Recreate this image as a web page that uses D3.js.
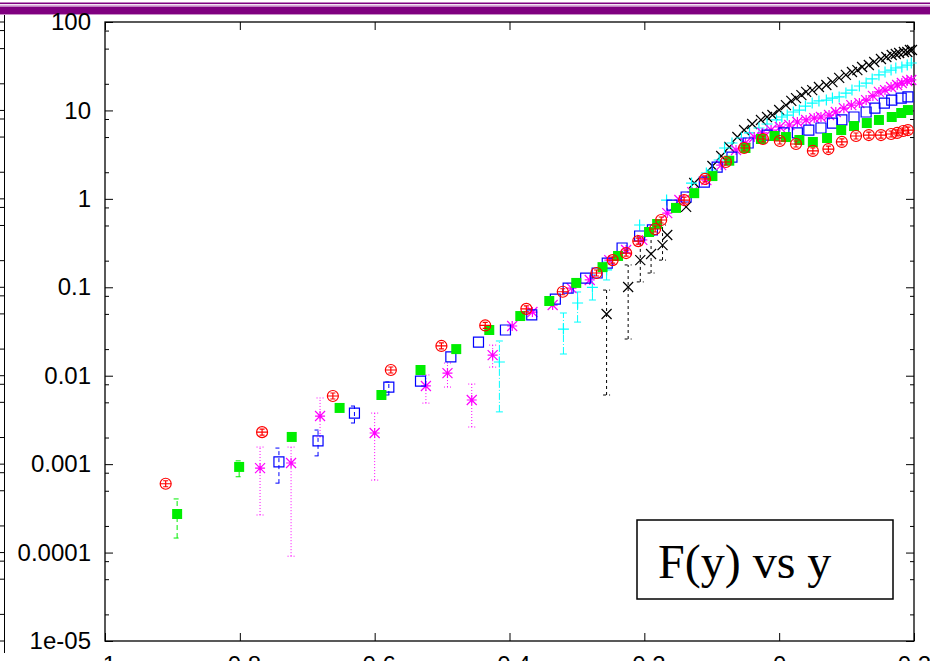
<!DOCTYPE html>
<html>
<head>
<meta charset="utf-8">
<script src="https://cdn.jsdelivr.net/npm/d3@7"></script>
<style>
body { margin: 0; background: #fff; overflow: hidden; }
svg { display: block; }
</style>
</head>
<body>
<div id="chart"></div>
<script>
const width = 930;
const height = 661;
const margin = { top: 22, right: 16, bottom: 20, left: 105 };

// axis ticks
const xTicks = [-1, -0.8, -0.6, -0.4, -0.2, 0, 0.2];
const xTickLabels = ["-1", "-0.8", "-0.6", "-0.4", "-0.2", "0", "0.2"];
const yTicks = [1e-5, 1e-4, 1e-3, 1e-2, 1e-1, 1, 10, 100];
const yTickLabels = ["1e-05", "0.0001", "0.001", "0.01", "0.1", "1", "10", "100"];
const yMinorMult = [2, 5, 8];

// [x, F(y), low, high] -- low/high only where a bar is visible
const red = [
  [-0.910, 0.0006], [-0.767, 0.0023], [-0.662, 0.0059], [-0.576, 0.0116],
  [-0.501, 0.0217], [-0.436, 0.037], [-0.375, 0.057], [-0.321, 0.089],
  [-0.271, 0.145], [-0.247, 0.203], [-0.227, 0.244], [-0.209, 0.333],
  [-0.184, 0.456], [-0.175, 0.577], [-0.141, 0.97], [-0.110, 1.68],
  [-0.079, 2.61], [-0.052, 3.76], [-0.024, 4.75], [0.001, 4.51],
  [0.025, 4.17], [0.050, 3.48], [0.073, 3.66], [0.093, 4.40],
  [0.114, 5.14], [0.133, 5.27], [0.151, 5.27], [0.166, 5.41],
  [0.175, 5.56], [0.184, 5.85], [0.191, 6.0]
];
const green = [
  [-0.893, 2.73e-4, 1.46e-4, 4.04e-4], [-0.801, 9.3e-4, 7.2e-4, 1.09e-3],
  [-0.723, 0.00203], [-0.652, 0.00432], [-0.590, 0.00605], [-0.532, 0.0116],
  [-0.479, 0.0200], [-0.430, 0.0329], [-0.384, 0.0473], [-0.341, 0.070],
  [-0.301, 0.112], [-0.262, 0.169], [-0.239, 0.226], [-0.193, 0.422],
  [-0.181, 0.52], [-0.153, 0.79], [-0.126, 1.16], [-0.099, 1.81],
  [-0.074, 2.7], [-0.050, 3.76], [-0.027, 4.75], [-0.007, 5.14],
  [0.010, 5.0], [0.030, 4.63], [0.050, 4.40], [0.071, 4.88],
  [0.092, 6.0], [0.111, 6.66], [0.130, 7.2], [0.148, 7.8],
  [0.167, 8.43], [0.181, 9.35], [0.191, 10.1]
];
const blue = [
  [-0.742, 1.06e-3, 6.1e-4, 1.52e-3], [-0.684, 1.83e-3, 1.24e-3, 2.43e-3],
  [-0.630, 3.78e-3, 2.92e-3, 4.54e-3], [-0.579, 7.44e-3, 6.05e-3, 8.5e-3],
  [-0.532, 8.7e-3], [-0.487, 0.0163], [-0.446, 0.0240], [-0.406, 0.0329],
  [-0.367, 0.0487], [-0.332, 0.0736], [-0.313, 0.098], [-0.287, 0.127],
  [-0.270, 0.145], [-0.255, 0.188], [-0.233, 0.278], [-0.207, 0.380],
  [-0.188, 0.445], [-0.159, 0.85], [-0.138, 1.05], [-0.111, 1.55],
  [-0.092, 2.29], [-0.070, 2.97], [-0.046, 4.28], [-0.018, 5.27],
  [0.007, 5.56], [0.027, 5.56], [0.044, 6.0], [0.062, 6.33],
  [0.079, 7.2], [0.093, 7.8], [0.111, 8.43], [0.129, 9.6],
  [0.142, 10.6], [0.156, 12.1], [0.167, 13.1], [0.181, 13.8], [0.191, 14.2]
];
const magenta = [
  [-0.770, 9.0e-4, 2.66e-4, 1.56e-3], [-0.724, 1.03e-3, 9.1e-5, 1.56e-3],
  [-0.681, 3.50e-3, 2.03e-3, 5.6e-3], [-0.600, 2.25e-3, 6.6e-4, 3.78e-3],
  [-0.524, 7.66e-3, 4.9e-3, 0.0102], [-0.492, 0.0107, 7.44e-3, 0.0139],
  [-0.456, 5.31e-3, 2.63e-3, 8.05e-3], [-0.425, 0.0171, 0.0125, 0.0222],
  [-0.396, 0.0365], [-0.366, 0.0525], [-0.336, 0.063], [-0.308, 0.098],
  [-0.281, 0.121], [-0.252, 0.203], [-0.227, 0.264], [-0.203, 0.343],
  [-0.166, 0.69], [-0.148, 0.97], [-0.129, 1.19], [-0.108, 1.63],
  [-0.086, 2.41], [-0.064, 3.57], [-0.050, 4.28], [-0.037, 5.0],
  [-0.025, 5.56], [-0.012, 6.0], [0.001, 6.5], [0.015, 6.84],
  [0.027, 7.4], [0.040, 7.8], [0.052, 8.2], [0.062, 8.43],
  [0.074, 8.87], [0.084, 9.6], [0.096, 10.6], [0.107, 11.5],
  [0.119, 12.1], [0.129, 13.1], [0.139, 14.6], [0.148, 16.2],
  [0.157, 17.0], [0.166, 18.4], [0.175, 19.4], [0.182, 20.4],
  [0.190, 21.5], [0.196, 22.1]
];
const cyan = [
  [-0.415, 0.0143, 3.9e-3, 0.0247], [-0.320, 0.0337, 0.0176, 0.0512],
  [-0.299, 0.0664, 0.0404, 0.0885], [-0.277, 0.10, 0.0718, 0.138],
  [-0.256, 0.157, 0.121, 0.193], [-0.207, 0.506], [-0.167, 0.97],
  [-0.130, 1.51], [-0.108, 1.96], [-0.099, 2.12], [-0.089, 2.75],
  [-0.081, 3.76], [-0.070, 4.28], [-0.056, 4.88], [-0.044, 5.56],
  [-0.030, 6.33], [-0.018, 7.02], [-0.004, 7.8], [0.004, 8.43],
  [0.012, 8.87], [0.021, 9.6], [0.030, 10.1], [0.039, 11.2],
  [0.049, 12.1], [0.059, 12.8], [0.070, 13.1], [0.079, 13.8],
  [0.089, 14.2], [0.099, 15.7], [0.108, 17.0], [0.119, 18.9],
  [0.129, 20.4], [0.138, 22.7], [0.148, 25.2], [0.157, 27.2],
  [0.166, 28.6], [0.173, 30.2], [0.182, 31.0], [0.190, 32.6], [0.196, 34.4]
];
const black = [
  [-0.256, 0.0499, 6.05e-3, 0.093], [-0.224, 0.1007, 0.026, 0.179],
  [-0.206, 0.203, 0.115, 0.371], [-0.190, 0.238, 0.145, 0.39],
  [-0.173, 0.30, 0.203, 0.506], [-0.166, 0.39], [-0.138, 0.81],
  [-0.126, 1.51], [-0.099, 2.35], [-0.086, 3.05], [-0.074, 3.86],
  [-0.062, 5.0], [-0.052, 6.0], [-0.040, 7.02], [-0.027, 7.8],
  [-0.018, 8.43], [-0.010, 8.87], [0.000, 10.1], [0.010, 11.5],
  [0.018, 12.8], [0.025, 13.8], [0.033, 14.9], [0.040, 16.2],
  [0.049, 17.0], [0.059, 18.4], [0.070, 19.4], [0.079, 20.9],
  [0.089, 23.3], [0.099, 25.2], [0.108, 27.2], [0.116, 28.6],
  [0.123, 31.0], [0.133, 32.6], [0.141, 35.3], [0.151, 38.2],
  [0.159, 40.2], [0.167, 42.4], [0.173, 43.5], [0.178, 44.6],
  [0.185, 45.8], [0.190, 45.8], [0.194, 48.2], [0.197, 48.2]
];

const boxLabel = "F(y) vs y";

const svg = d3.select("#chart")
  .append("svg")
  .attr("width", width)
  .attr("height", height);

const x = d3.scaleLinear()
  .domain([-1, 0.2])
  .range([margin.left, width - margin.right]);

const y = d3.scaleLog()
  .domain([1e-5, 100])
  .range([height - margin.bottom, margin.top]);

// purple banner at the very top (slide decoration)
svg.append("rect").attr("x", 0).attr("y", 2.5).attr("width", width).attr("height", 1.6).attr("fill", "#800080");
svg.append("rect").attr("x", 0).attr("y", 5).attr("width", width).attr("height", 1).attr("fill", "#d8a8d8");
svg.append("rect").attr("x", 0).attr("y", 6.5).attr("width", width).attr("height", 7.5).attr("fill", "#800080");
svg.append("rect").attr("x", 0).attr("y", 14).attr("width", width).attr("height", 1).attr("fill", "#c890c8");

// edge of the neighbouring panel on the left
const minorVals = [];
for (let e = -5; e < 2; e++) {
  yMinorMult.forEach(m => minorVals.push(m * Math.pow(10, e)));
}
svg.append("line")
  .attr("x1", 4.5).attr("x2", 4.5)
  .attr("y1", 15).attr("y2", 653)
  .attr("stroke", "#000");
svg.append("g")
  .selectAll("line")
  .data(yTicks.concat(minorVals))
  .join("line")
    .attr("x1", 0).attr("x2", 4.5)
    .attr("y1", d => y(d)).attr("y2", d => y(d))
    .attr("stroke", "#000");

const fontSans = "'Liberation Sans', Arial, sans-serif";

// axes
svg.append("g")
  .attr("transform", `translate(${margin.left},0)`)
  .call(d3.axisLeft(y)
    .tickValues(yTicks)
    .tickSize(-8)
    .tickPadding(14)
    .tickFormat((d, i) => yTickLabels[i]));

svg.append("g")
  .attr("transform", `translate(${margin.left},0)`)
  .call(d3.axisLeft(y).tickValues(minorVals).tickSize(-4).tickFormat(""));

svg.append("g")
  .attr("transform", `translate(${width - margin.right},0)`)
  .call(d3.axisRight(y).tickValues(yTicks).tickSize(-8).tickFormat(""));

svg.append("g")
  .attr("transform", `translate(${width - margin.right},0)`)
  .call(d3.axisRight(y).tickValues(minorVals).tickSize(-4).tickFormat(""));

svg.append("g")
  .attr("transform", `translate(0,${height - margin.bottom})`)
  .call(d3.axisBottom(x)
    .tickValues(xTicks)
    .tickSize(-8)
    .tickPadding(15)
    .tickFormat((d, i) => xTickLabels[i]));

svg.append("g")
  .attr("transform", `translate(0,${margin.top})`)
  .call(d3.axisTop(x).tickValues(xTicks).tickSize(-8).tickFormat(""));

svg.selectAll(".domain").remove();
svg.selectAll(".tick line").attr("stroke", "#000").attr("stroke-width", 1);
svg.selectAll(".tick text")
  .attr("fill", "#000")
  .style("font-family", fontSans)
  .style("font-size", "24px");

// frame
svg.append("rect")
  .attr("x", margin.left)
  .attr("y", margin.top)
  .attr("width", width - margin.right - margin.left)
  .attr("height", height - margin.bottom - margin.top)
  .attr("fill", "none")
  .attr("stroke", "#000")
  .attr("stroke-width", 1.3);

// marker shapes
function markerPath(type, cx, cy) {
  const p = d3.path();
  if (type === "circle") {
    const r = 5.5;
    p.moveTo(cx + r, cy);
    p.arc(cx, cy, r, 0, 2 * Math.PI);
    p.moveTo(cx - r, cy); p.lineTo(cx + r, cy);
    p.moveTo(cx - 2.5, cy - 3); p.lineTo(cx + 2.5, cy - 3);
    p.moveTo(cx - 2.5, cy + 3); p.lineTo(cx + 2.5, cy + 3);
    p.moveTo(cx, cy - 3); p.lineTo(cx, cy + 3);
  } else if (type === "square" || type === "fsquare") {
    const s = 5;
    p.rect(cx - s, cy - s, 2 * s, 2 * s);
  } else if (type === "star") {
    const s = 5;
    p.moveTo(cx - s, cy); p.lineTo(cx + s, cy);
    p.moveTo(cx, cy - s); p.lineTo(cx, cy + s);
    p.moveTo(cx - s, cy - s); p.lineTo(cx + s, cy + s);
    p.moveTo(cx - s, cy + s); p.lineTo(cx + s, cy - s);
  } else if (type === "plus") {
    const s = 5.5;
    p.moveTo(cx - s, cy); p.lineTo(cx + s, cy);
    p.moveTo(cx, cy - s); p.lineTo(cx, cy + s);
  } else if (type === "cross") {
    const s = 5;
    p.moveTo(cx - s, cy - s); p.lineTo(cx + s, cy + s);
    p.moveTo(cx - s, cy + s); p.lineTo(cx + s, cy - s);
  }
  return p.toString();
}

function barPath(d) {
  const p = d3.path();
  const cx = x(d[0]);
  const y0 = y(d[2]), y1 = y(d[3]);
  p.moveTo(cx, y0); p.lineTo(cx, y1);
  p.moveTo(cx - 3.5, y0); p.lineTo(cx + 3.5, y0);
  p.moveTo(cx - 3.5, y1); p.lineTo(cx + 3.5, y1);
  return p.toString();
}

const series = [
  { data: black, color: "#000000", type: "cross", dash: "3,3" },
  { data: cyan, color: "#00ffff", type: "plus", dash: "7,2,1,2" },
  { data: magenta, color: "#ff00ff", type: "star", dash: "1,2" },
  { data: blue, color: "#0000ff", type: "square", dash: "4,3" },
  { data: green, color: "#00ee00", type: "fsquare", dash: "5,3" },
  { data: red, color: "#ff0000", type: "circle", dash: null }
];

const plotArea = svg.append("g");

series.forEach(s => {
  const g = plotArea.append("g");
  g.selectAll("path.bar")
    .data(s.data.filter(d => d.length > 2))
    .join("path")
      .attr("class", "bar")
      .attr("d", barPath)
      .attr("fill", "none")
      .attr("stroke", s.color)
      .attr("stroke-width", 1)
      .attr("stroke-dasharray", s.dash);
  g.selectAll("path.pt")
    .data(s.data)
    .join("path")
      .attr("class", "pt")
      .attr("d", d => markerPath(s.type, x(d[0]), y(d[1])))
      .attr("fill", s.type === "fsquare" ? s.color : "none")
      .attr("stroke", s.color)
      .attr("stroke-width", s.type === "fsquare" ? 0 : 1.2);
});

// label box
const box = svg.append("g").attr("transform", "translate(637,520)");
box.append("rect")
  .attr("width", 256)
  .attr("height", 79)
  .attr("fill", "#fff")
  .attr("stroke", "#000")
  .attr("stroke-width", 1.5);
box.append("text")
  .attr("x", 21)
  .attr("y", 58)
  .style("font-family", "'Liberation Serif', 'Times New Roman', serif")
  .style("font-size", "48px")
  .attr("fill", "#000")
  .text(boxLabel);
</script>
</body>
</html>
